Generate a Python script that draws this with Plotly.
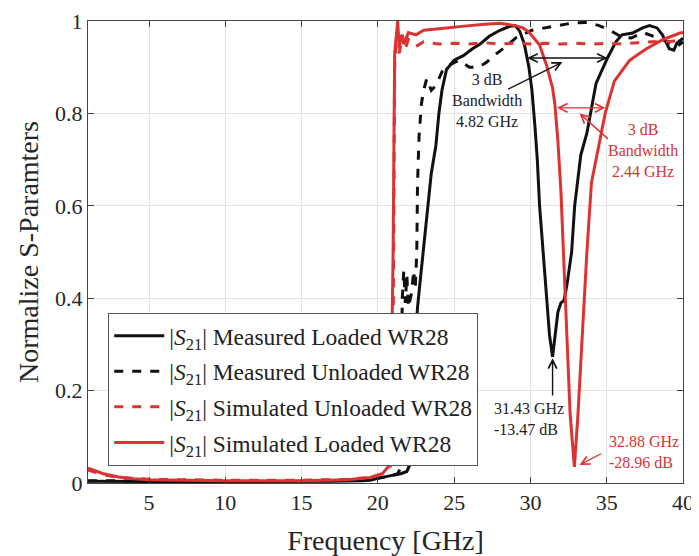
import plotly.graph_objects as go

# ---------------- data ----------------
meas_loaded_f = [1, 3, 6, 10, 14, 17, 19, 19.5, 20, 20.5, 21, 21.5, 21.9, 22.1, 22.25, 22.4, 22.6, 22.75,
                 23.1, 23.3, 23.5, 23.8, 24.0, 24.2, 24.5, 25.0, 25.6, 26.2, 26.7, 27.3, 28.0, 28.6, 29.0,
                 29.3, 29.6, 29.9, 30.1, 30.3, 30.45, 30.6, 30.85, 31.06, 31.25, 31.45, 31.6, 31.8, 32.0,
                 32.2, 32.4, 32.7, 32.9, 33.1, 33.3, 33.7, 34.3, 35.05, 35.6, 36.0, 36.7, 37.35, 37.8,
                 38.3, 38.65, 39.1, 39.4, 39.6, 40]
meas_loaded_s = [0.004, 0.003, 0.003, 0.003, 0.003, 0.004, 0.005, 0.006, 0.01, 0.014, 0.017, 0.02, 0.025,
                 0.04, 0.12, 0.28, 0.38, 0.43, 0.54, 0.61, 0.67, 0.73, 0.80, 0.85, 0.895, 0.915, 0.925,
                 0.94, 0.95, 0.967, 0.98, 0.988, 0.99, 0.978, 0.95, 0.90, 0.85, 0.77, 0.70, 0.60, 0.50,
                 0.40, 0.32, 0.273, 0.32, 0.37, 0.39, 0.395, 0.43, 0.50, 0.60, 0.66, 0.71, 0.757, 0.865,
                 0.92, 0.955, 0.97, 0.974, 0.985, 0.99, 0.985, 0.97, 0.94, 0.937, 0.952, 0.963]

meas_unloaded_f = [1, 3, 6, 10, 14, 17, 19, 20, 20.8, 21.3, 21.45, 21.6, 21.7, 21.8, 21.9, 22.0, 22.2,
                   22.35, 22.45, 22.55, 22.6, 22.7, 22.85, 23.0, 23.2, 23.5, 23.8, 24.2, 24.7, 25.3, 26.0,
                   26.6, 27.1, 27.8, 28.4, 29.1, 30.1, 31.0, 31.9, 32.8, 33.7, 34.5, 35.2, 36.0, 36.6,
                   37.4, 38.2, 39.0, 39.6, 40]
meas_unloaded_s = [0.005, 0.004, 0.004, 0.004, 0.004, 0.005, 0.007, 0.01, 0.015, 0.02, 0.03, 0.40, 0.46,
                   0.39, 0.45, 0.38, 0.41, 0.46, 0.42, 0.50, 0.65, 0.75, 0.82, 0.85, 0.875, 0.85, 0.86,
                   0.89, 0.905, 0.915, 0.90, 0.90, 0.91, 0.93, 0.945, 0.965, 0.98, 0.985, 0.99, 0.996,
                   0.997, 0.99, 0.98, 0.965, 0.963, 0.975, 0.965, 0.955, 0.945, 0.955]

sim_unloaded_f = [1, 2, 3, 5, 10, 15, 18, 19.5, 20.3, 20.8, 21.0, 21.1, 21.2, 21.4, 21.6, 21.8, 22.0,
                  22.5, 23, 24, 25, 26, 27, 28, 29, 30, 31, 32, 33, 34, 35, 36, 37, 38, 39, 40]
sim_unloaded_s = [0.028, 0.018, 0.012, 0.008, 0.006, 0.006, 0.008, 0.012, 0.02, 0.035, 0.30, 0.90, 0.95,
                  0.93, 0.97, 0.94, 0.96, 0.945, 0.955, 0.95, 0.952, 0.95, 0.953, 0.95, 0.952, 0.95, 0.952,
                  0.95, 0.952, 0.95, 0.952, 0.95, 0.953, 0.955, 0.955, 0.958]

sim_loaded_f = [1, 2, 3, 4, 5, 10, 15, 18, 19.5, 20.3, 20.8, 21.0, 21.1, 21.2, 21.3, 21.4, 21.5, 21.7,
                22.0, 22.5, 23, 24, 25, 26, 27, 28, 29, 29.5, 29.9, 30.6, 31.05, 31.45, 31.6, 31.8, 32.0,
                32.2, 32.4, 32.6, 32.88, 33.1, 33.35, 33.7, 34.0, 34.3, 34.9, 35.5, 36.5, 37.6, 38.7,
                39.8, 40]
sim_loaded_s = [0.032, 0.02, 0.013, 0.009, 0.007, 0.005, 0.005, 0.007, 0.012, 0.02, 0.04, 0.50, 0.93,
                0.96, 1.0, 0.94, 0.97, 0.95, 0.975, 0.97, 0.98, 0.983, 0.987, 0.99, 0.993, 0.995, 0.99,
                0.985, 0.976, 0.948, 0.905, 0.855, 0.82, 0.74, 0.63, 0.46, 0.29, 0.15, 0.035, 0.14, 0.29,
                0.50, 0.65, 0.70, 0.80, 0.87, 0.915, 0.94, 0.96, 0.974, 0.975]

x_ticks = [5, 10, 15, 20, 25, 30, 35, 40]
y_ticks = [0, 0.2, 0.4, 0.6, 0.8, 1]
y_tick_text = ["0", "0.2", "0.4", "0.6", "0.8", "1"]

RED = "#DC3232"
BLK = "#111111"
FONT = "Times New Roman, Liberation Serif, DejaVu Serif, serif"

fig = go.Figure()
fig.add_trace(go.Scatter(x=meas_loaded_f, y=meas_loaded_s, mode="lines",
                         line=dict(color=BLK, width=3), legendgroup="a",
                         name="|<i>S</i><sub>21</sub>| Measured Loaded WR28"))
fig.add_trace(go.Scatter(x=meas_unloaded_f, y=meas_unloaded_s, mode="lines",
                         line=dict(color=BLK, width=3, dash="dash"), legendgroup="b",
                         name="|<i>S</i><sub>21</sub>| Measured Unloaded WR28"))
fig.add_trace(go.Scatter(x=sim_unloaded_f, y=sim_unloaded_s, mode="lines",
                         line=dict(color=RED, width=3, dash="dash"), legendgroup="c",
                         name="|<i>S</i><sub>21</sub>| Simulated Unloaded WR28"))
fig.add_trace(go.Scatter(x=sim_loaded_f, y=sim_loaded_s, mode="lines",
                         line=dict(color=RED, width=3), legendgroup="d",
                         name="|<i>S</i><sub>21</sub>| Simulated Loaded WR28"))

ann_font = dict(family=FONT, size=16)
anns = []
anns.append(dict(x=35.05, y=0.92, ax=29.7, ay=0.92, xref="x", yref="y", axref="x", ayref="y",
                 text="", showarrow=True, arrowside="end+start", arrowhead=5, arrowsize=1.2,
                 arrowwidth=1.4, arrowcolor=BLK, standoff=0, startstandoff=0))
anns.append(dict(x=27.13, y=0.829, xref="x", yref="y", text="3 dB<br>Bandwidth<br>4.82 GHz",
                 showarrow=False, font=dict(ann_font, color="#222222"), align="center"))
anns.append(dict(x=32.1, y=0.911, ax=28.44, ay=0.851, xref="x", yref="y", axref="x", ayref="y",
                 text="", showarrow=True, arrowhead=5, arrowsize=1.2, arrowwidth=1.4,
                 arrowcolor=BLK, standoff=0))
anns.append(dict(x=34.9, y=0.812, ax=31.65, ay=0.812, xref="x", yref="y", axref="x", ayref="y",
                 text="", showarrow=True, arrowside="end+start", arrowhead=5, arrowsize=1.2,
                 arrowwidth=1.4, arrowcolor=RED, standoff=0, startstandoff=0))
anns.append(dict(x=37.35, y=0.719, xref="x", yref="y", text="3 dB<br>Bandwidth<br>2.44 GHz",
                 showarrow=False, font=dict(ann_font, color=RED), align="center"))
anns.append(dict(x=33.22, y=0.80, ax=35.18, ay=0.742, xref="x", yref="y", axref="x", ayref="y",
                 text="", showarrow=True, arrowhead=5, arrowsize=1.2, arrowwidth=1.4,
                 arrowcolor=RED, standoff=0))
anns.append(dict(x=31.45, y=0.27, ax=31.45, ay=0.186, xref="x", yref="y", axref="x", ayref="y",
                 text="", showarrow=True, arrowhead=5, arrowsize=1.2, arrowwidth=1.4,
                 arrowcolor=BLK, standoff=0))
anns.append(dict(x=27.46, y=0.139, xref="x", yref="y", text="31.43 GHz<br>-13.47 dB",
                 showarrow=False, font=dict(ann_font, color="#222222"), align="left",
                 xanchor="left"))
anns.append(dict(x=33.22, y=0.039, ax=34.73, ay=0.065, xref="x", yref="y", axref="x", ayref="y",
                 text="", showarrow=True, arrowhead=5, arrowsize=1.2, arrowwidth=1.4,
                 arrowcolor=RED, standoff=0))
anns.append(dict(x=35.05, y=0.068, xref="x", yref="y", text="32.88 GHz<br>-28.96 dB",
                 showarrow=False, font=dict(ann_font, color=RED), align="left",
                 xanchor="left"))

# the page body has an 8 px margin, so the figure is drawn 8 px in from the window corner
fig.update_layout(
    width=691, height=548,
    margin=dict(l=80, r=16, t=13, b=73, autoexpand=False),
    paper_bgcolor="white", plot_bgcolor="white",
    font=dict(family=FONT, size=22, color="#262626"),
    showlegend=True,
    legend=dict(x=0.034, y=0.368, xanchor="left", yanchor="top",
                bgcolor="white", bordercolor="#555555", borderwidth=1,
                font=dict(family=FONT, size=23.5, color="#222222"),
                tracegroupgap=2, itemwidth=50),
    annotations=anns,
)
fig.update_xaxes(range=[1, 40], tickvals=x_ticks, showgrid=True, gridcolor="#E3E3E3", gridwidth=1,
                 showline=True, linecolor="#444444", linewidth=1, mirror="ticks",
                 ticks="inside", ticklen=6, tickcolor="#444444", zeroline=False, automargin=False,
                 ticklabeloverflow="allow",
                 title=dict(text="Frequency [GHz]", font=dict(size=28), standoff=16),
                 tickfont=dict(size=22))
fig.update_yaxes(range=[0, 1], tickvals=y_ticks, ticktext=y_tick_text, showgrid=True,
                 gridcolor="#E3E3E3", gridwidth=1,
                 showline=True, linecolor="#444444", linewidth=1, mirror="ticks",
                 ticks="inside", ticklen=6, tickcolor="#444444", zeroline=False, automargin=False,
                 ticklabeloverflow="allow",
                 title=dict(text="Normalize S-Paramters", font=dict(size=28), standoff=8),
                 tickfont=dict(size=22))

fig.write_html("out.html")
